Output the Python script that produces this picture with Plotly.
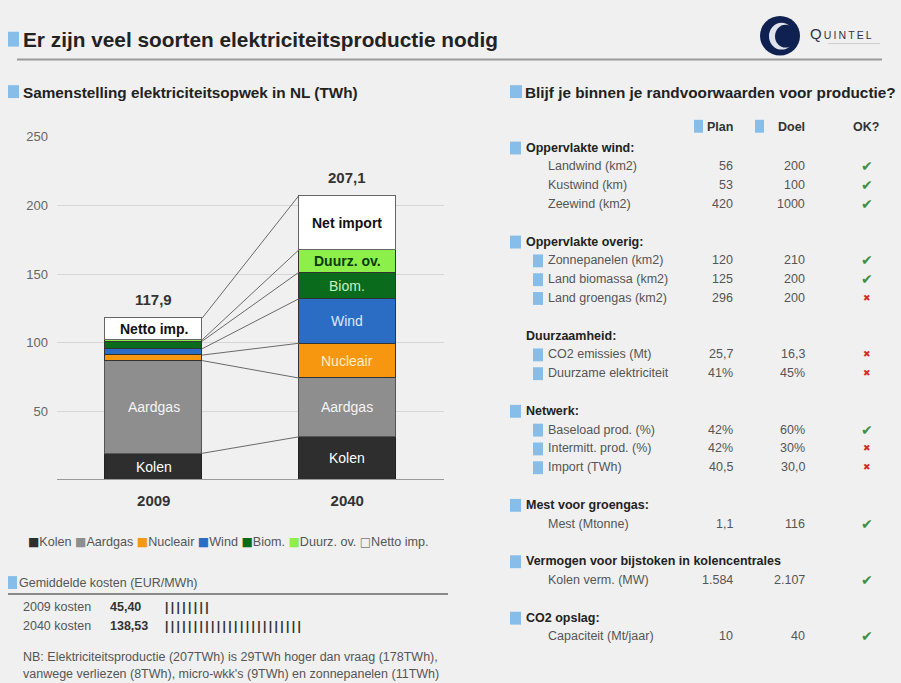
import plotly.graph_objects as go

W, H = 901, 683

# ---------------- data ----------------
years = ["2009", "2040"]
sources = ["Kolen", "Aardgas", "Nucleair", "Wind", "Biom.", "Duurz. ov.", "Netto imp."]
values_2009 = [19.5, 67.5, 4.0, 4.6, 5.5, 1.0, 15.8]
values_2040 = [31.5, 42.8, 25.3, 32.4, 19.3, 16.3, 39.5]
labels_2009 = ["Kolen", "Aardgas", "", "", "", "", "Netto imp."]
labels_2040 = ["Kolen", "Aardgas", "Nucleair", "Wind", "Biom.", "Duurz. ov.", "Net import"]
totals = [117.9, 207.1]
y_ticks = [50, 100, 150, 200, 250]

cost_labels = ["2009 kosten", "2040 kosten"]
cost_values = [45.40, 138.53]

group_titles = ["Oppervlakte wind:", "Oppervlakte overig:", "Duurzaamheid:", "Netwerk:",
                "Mest voor groengas:", "Vermogen voor bijstoken in kolencentrales", "CO2 opslag:"]
group_icon = [True, True, False, True, True, True, True]
row_group = [0, 0, 0, 1, 1, 1, 2, 2, 3, 3, 3, 4, 5, 6]
row_labels = ["Landwind (km2)", "Kustwind (km)", "Zeewind (km2)",
              "Zonnepanelen (km2)", "Land biomassa (km2)", "Land groengas (km2)",
              "CO2 emissies (Mt)", "Duurzame elektriciteit",
              "Baseload prod. (%)", "Intermitt. prod. (%)", "Import (TWh)",
              "Mest (Mtonne)", "Kolen verm. (MW)", "Capaciteit (Mt/jaar)"]
row_icon = [False, False, False, True, True, True, True, True, True, True, True, False, False, False]
row_plan = ["56", "53", "420", "120", "125", "296", "25,7", "41%", "42%", "42%", "40,5", "1,1", "1.584", "10"]
row_doel = ["200", "100", "1000", "210", "200", "200", "16,3", "45%", "60%", "30%", "30,0", "116", "2.107", "40"]
row_ok = [True, True, True, True, True, False, False, False, True, False, False, True, True, True]

title = "Er zijn veel soorten elektriciteitsproductie nodig"
left_title = "Samenstelling elektriciteitsopwek in NL (TWh)"
right_title = "Blijf je binnen je randvoorwaarden voor productie?"
cost_title = "Gemiddelde kosten (EUR/MWh)"
note_lines = ["NB: Elektriciteitsproductie (207TWh) is 29TWh hoger dan vraag (178TWh),",
              "vanwege verliezen (8TWh), micro-wkk's (9TWh) en zonnepanelen (11TWh)"]

# ---------------- style ----------------
FONT = "Liberation Sans, Arial, sans-serif"
BG = "#f0f0f0"
colors = ["#2e2e2e", "#8e8e8e", "#f7960f", "#2b6cc4", "#0b6b1d", "#8def4a", "#ffffff"]
edge = ["#222222", "#555555", "#333333", "#333333", "#333333", "#333333", "#666666"]
label_colors = ["#ffffff", "#f4f4f4", "#fff0c8", "#dce9ff", "#c8f0c0", "#0a3a0a", "#111111"]
label_bold = [False, False, False, False, False, True, True]
ICON = "#86bde9"


def px(x):
    return x / W


def py(y):
    return 1 - y / H


fig = go.Figure()

# stacked bars
for i, s in enumerate(sources):
    fig.add_trace(go.Bar(
        x=[0, 1], y=[values_2009[i], values_2040[i]], name=s, width=0.5,
        marker=dict(color=colors[i], line=dict(color=edge[i], width=1)),
        showlegend=False, hoverinfo="skip"))

# connector lines between segment tops
cum09, cum40 = [], []
a = b = 0
for v1, v2 in zip(values_2009, values_2040):
    a += v1
    b += v2
    cum09.append(a)
    cum40.append(b)
for i in range(len(sources)):
    fig.add_trace(go.Scatter(x=[0.25, 0.75], y=[cum09[i], cum40[i]], mode="lines",
                             line=dict(color="#6a6a6a", width=1), showlegend=False,
                             hoverinfo="skip"))

ann = []
# segment labels
for xi, (vals, labs, cums) in enumerate([(values_2009, labels_2009, cum09), (values_2040, labels_2040, cum40)]):
    for i, lab in enumerate(labs):
        if not lab:
            continue
        t = f"<b>{lab}</b>" if label_bold[i] else lab
        ann.append(dict(x=xi, y=cums[i] - vals[i] / 2, xref="x", yref="y", text=t, showarrow=False,
                        xanchor="center", yanchor="middle",
                        font=dict(family=FONT, size=14, color=label_colors[i])))
# totals
for xi, tot in enumerate(totals):
    ann.append(dict(x=xi, y=tot, xref="x", yref="y", xanchor="center", yanchor="bottom", yshift=8,
                    showarrow=False, text="<b>" + f"{tot:.1f}".replace(".", ",") + "</b>",
                    font=dict(family=FONT, size=15, color="#333333")))

shapes = []


def icon(x0, y0, w=11, h=13):
    shapes.append(dict(type="rect", xref="paper", yref="paper", x0=px(x0), x1=px(x0 + w),
                       y0=py(y0 + h), y1=py(y0), fillcolor=ICON, line=dict(width=0), layer="above"))


def text(x, y, t, size=12.5, color="#555555", bold=False, anchor="left", family=FONT):
    ann.append(dict(x=px(x), y=py(y), xref="paper", yref="paper", xanchor=anchor, yanchor="middle",
                    text=f"<b>{t}</b>" if bold else t, showarrow=False,
                    font=dict(family=family, size=size, color=color)))


# title block
icon(8, 25, 11, 15)
text(21, 33, title, size=20.8, color="#222222", bold=True)
shapes.append(dict(type="line", xref="paper", yref="paper", x0=px(17), x1=px(882), y0=py(53), y1=py(53),
                   line=dict(color="#9a9a9a", width=2)))
# logo
shapes.append(dict(type="circle", xref="paper", yref="paper", x0=px(760), x1=px(800), y0=py(49), y1=py(9),
                   fillcolor="#0f2150", line=dict(width=0)))
shapes.append(dict(type="circle", xref="paper", yref="paper", x0=px(769), x1=px(794), y0=py(43), y1=py(16),
                   fillcolor="#dfe3ec", line=dict(width=0)))
shapes.append(dict(type="circle", xref="paper", yref="paper", x0=px(775), x1=px(796), y0=py(41), y1=py(18),
                   fillcolor="#0f2150", line=dict(width=0)))
text(808, 27, "<span style='font-size:15px'>Q</span>\u2009U\u2009I\u2009N\u2009T\u2009E\u2009L",
     size=10.5, color="#333344")
shapes.append(dict(type="line", xref="paper", yref="paper", x0=px(828), x1=px(880), y0=py(37), y1=py(37),
                   line=dict(color="#cccccc", width=1)))

# section titles
icon(8, 79, 11, 13)
text(21, 86, left_title, size=15.3, color="#222222", bold=True)
icon(510, 79, 12, 13)
text(523, 86, right_title, size=15.3, color="#222222", bold=True)

# legend
leg = []
for i, s in enumerate(sources):
    sym = "□" if colors[i] == "#ffffff" else "■"
    c = "#777777" if colors[i] == "#ffffff" else colors[i]
    leg.append(f"<span style='color:{c};font-family:DejaVu Sans;font-size:12px'>{sym}</span>{s}")
text(26, 541, "&nbsp;".join(leg), size=12.6, color="#555555")

# cost block
icon(8, 575, 9, 13)
text(17, 582, cost_title, size=12.5, color="#555555")
shapes.append(dict(type="line", xref="paper", yref="paper", x0=px(8), x1=px(448), y0=py(593), y1=py(593),
                   line=dict(color="#8a8a8a", width=2)))
for k, (lab, val) in enumerate(zip(cost_labels, cost_values)):
    yy = 606 + 19 * k
    text(21, yy, lab, size=12.5, color="#555555")
    text(108, yy, f"{val:.2f}".replace(".", ","), size=12.5, color="#333333", bold=True)
    n = int(round(val / 5.75))
    text(163, yy, "<b>" + "|\u2009" * n + "</b>", size=12, color="#333333")

# note
text(21, 657, note_lines[0], size=12.5, color="#555555")
text(21, 674, note_lines[1], size=12.5, color="#555555")

# table header
hy = 121
icon(694, hy - 7, 9, 13)
text(735, hy, "Plan", size=12.5, color="#333333", bold=True, anchor="right")
icon(755, hy - 7, 9, 13)
text(807, hy, "Doel", size=12.5, color="#333333", bold=True, anchor="right")
text(866, hy, "OK?", size=12.5, color="#333333", bold=True, anchor="center")

# table body
y = 142
for g, gt in enumerate(group_titles):
    if group_icon[g]:
        icon(510, y - 6, 11, 13)
    text(524, y, gt, size=12.5, color="#222222", bold=True)
    for r in [i for i, rg in enumerate(row_group) if rg == g]:
        y += 19
        if row_icon[r]:
            icon(533, y - 6, 10, 13)
        text(546, y, row_labels[r], size=12.5, color="#555555")
        text(735, y, row_plan[r], size=12.5, color="#555555", anchor="right")
        text(807, y, row_doel[r], size=12.5, color="#555555", anchor="right")
        if row_ok[r]:
            text(867, y, "✔", size=14, color="#3f8f3f", anchor="center", family="DejaVu Sans")
        else:
            text(867, y, "✖", size=9, color="#d42a2a", anchor="center", family="DejaVu Sans")
    y += 38

# zero line
shapes.append(dict(type="line", xref="x domain", yref="y", x0=0, x1=1, y0=0, y1=0,
                   line=dict(color="#9a9a9a", width=2)))

fig.update_layout(
    width=W, height=H, autosize=False,
    margin=dict(l=0, r=0, t=0, b=0),
    paper_bgcolor=BG, plot_bgcolor=BG,
    barmode="stack", bargap=0,
    font=dict(family=FONT, color="#555555"),
    xaxis=dict(domain=[px(57), px(444)], range=[-0.5, 1.5], tickvals=[0, 1],
               ticktext=[f"<b>{y_}</b>" for y_ in years], tickfont=dict(size=15, color="#333333"),
               showgrid=False, zeroline=False, showline=False, ticks="", ticklabelstandoff=10,
               fixedrange=True),
    yaxis=dict(domain=[py(478), py(131)], range=[0, 250], tickvals=y_ticks,
               tickfont=dict(size=13, color="#666666"), gridcolor="#d6d6d6", gridwidth=1,
               zeroline=False, showline=False, ticks="", ticklabelstandoff=8, fixedrange=True),
    annotations=ann, shapes=shapes, showlegend=False,
)

fig.write_html("out.html", config={"displayModeBar": False},
               post_script="document.body.style.margin='0';document.body.style.overflow='hidden';")
